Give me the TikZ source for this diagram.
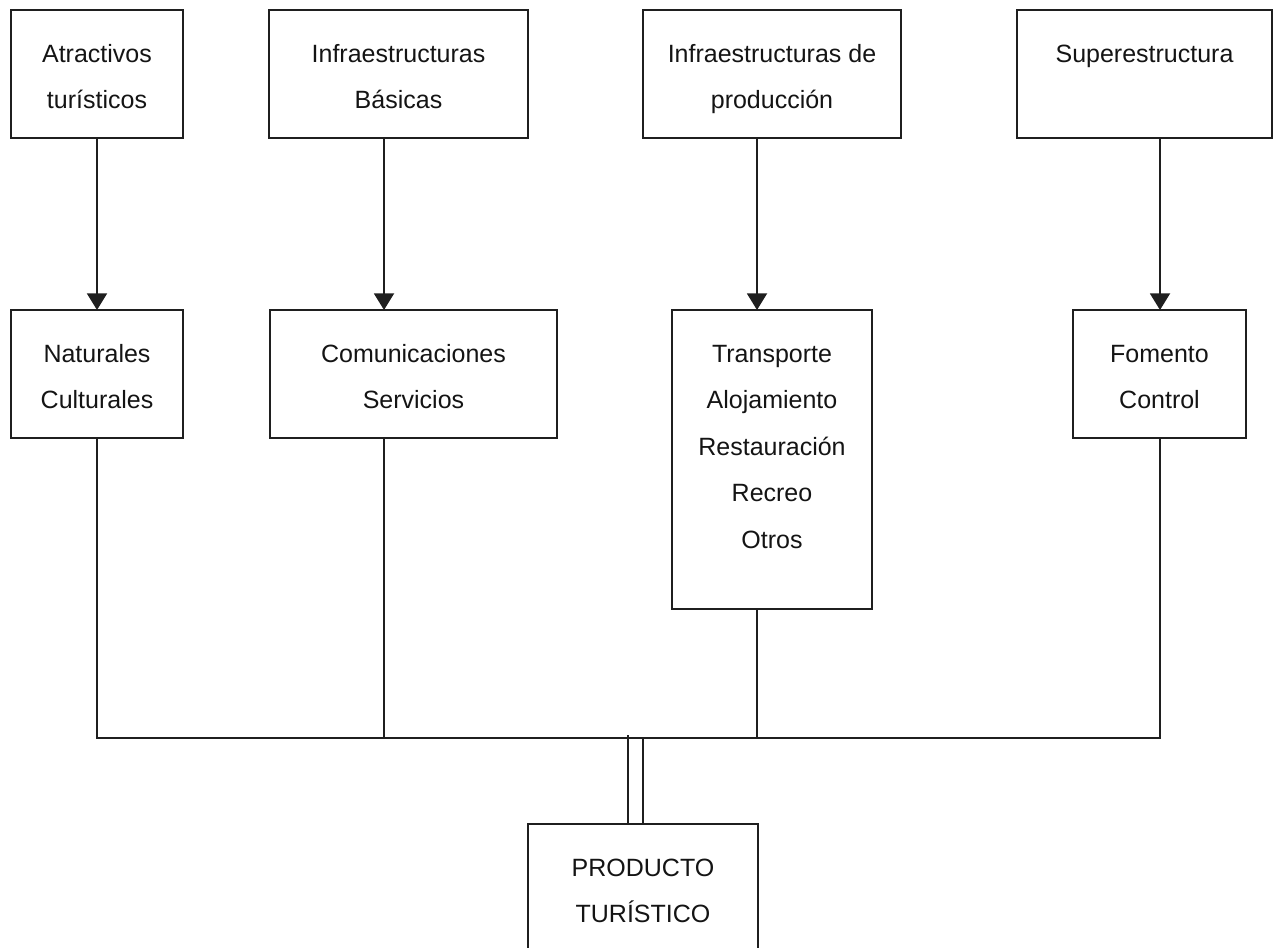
\documentclass[tikz,border=0pt]{standalone}
\usepackage{fontspec}
\setmainfont{Liberation Sans}
\usetikzlibrary{arrows.meta,calc}
\tikzset{
  boxstyle/.style={rectangle, draw=black!88, line width=1.5pt, inner sep=0pt, outer sep=0pt},
  txt/.style={inner sep=0pt, align=center, anchor=north, text=black!92,
    font=\fontsize{18.75pt}{34.9pt}\selectfont},
  conn/.style={draw=black!88, line width=1.5pt},
  arr/.style={conn, -{Triangle[width=15pt,length=12.5pt]}},
}
\newcommand\mkbox[6]{%
  \node[boxstyle, minimum width={(#4-#2)*0.75pt}, minimum height={(#5-#3)*0.75pt}]
    (#1) at ({(#2+#4)/2},{(#3+#5)/2}) {};
  \node[txt] (#1t) at ({(#2+#4)/2},{#3+19.4}) {\strut #6};
}
\begin{document}
\begin{tikzpicture}[x=0.75pt,y=-0.75pt]
\useasboundingbox (0,0) rectangle (1277,948);
\clip (0,0) rectangle (1277,948);
% top row
\mkbox{b1}{11}{10}{183}{138}{Atractivos\\turísticos}
\mkbox{b2}{269}{10}{528}{138}{Infraestructuras\\Básicas}
\mkbox{b3}{643}{10}{901}{138}{Infraestructuras de\\producción}
\mkbox{b4}{1017}{10}{1272}{138}{Superestructura}
% middle row
\mkbox{m1}{11}{310}{183}{438}{Naturales\\Culturales}
\mkbox{m2}{270}{310}{557}{438}{Comunicaciones\\Servicios}
\mkbox{m3}{672}{310}{872}{609}{Transporte\\Alojamiento\\Restauración\\Recreo\\Otros}
\mkbox{m4}{1073}{310}{1246}{438}{Fomento\\Control}
% bottom
\mkbox{p}{528}{824}{758}{1000}{PRODUCTO\\TURÍSTICO}
% connector columns
\coordinate (a1) at (97,0);
\coordinate (a2) at (384,0);
\coordinate (a3) at (757,0);
\coordinate (a4) at (1160,0);
\coordinate (bus) at (0,738);
\coordinate (d1) at (628,735);
\coordinate (d2) at (643,738);
% arrows
\draw[arr] (b1.south -| a1) -- (m1.north -| a1);
\draw[arr] (b2.south -| a2) -- (m2.north -| a2);
\draw[arr] (b3.south -| a3) -- (m3.north -| a3);
\draw[arr] (b4.south -| a4) -- (m4.north -| a4);
% bus
\draw[conn] (m1.south -| a1) -- (bus -| a1) -- (bus -| a4) -- (m4.south -| a4);
\draw[conn] (m2.south -| a2) -- (bus -| a2);
\draw[conn] (m3.south -| a3) -- (bus -| a3);
% double line to product
\draw[conn, line width=1.9pt] (d1) -- (d1 |- p.north);
\draw[conn] (d2) -- (d2 |- p.north);
\end{tikzpicture}
\end{document}
